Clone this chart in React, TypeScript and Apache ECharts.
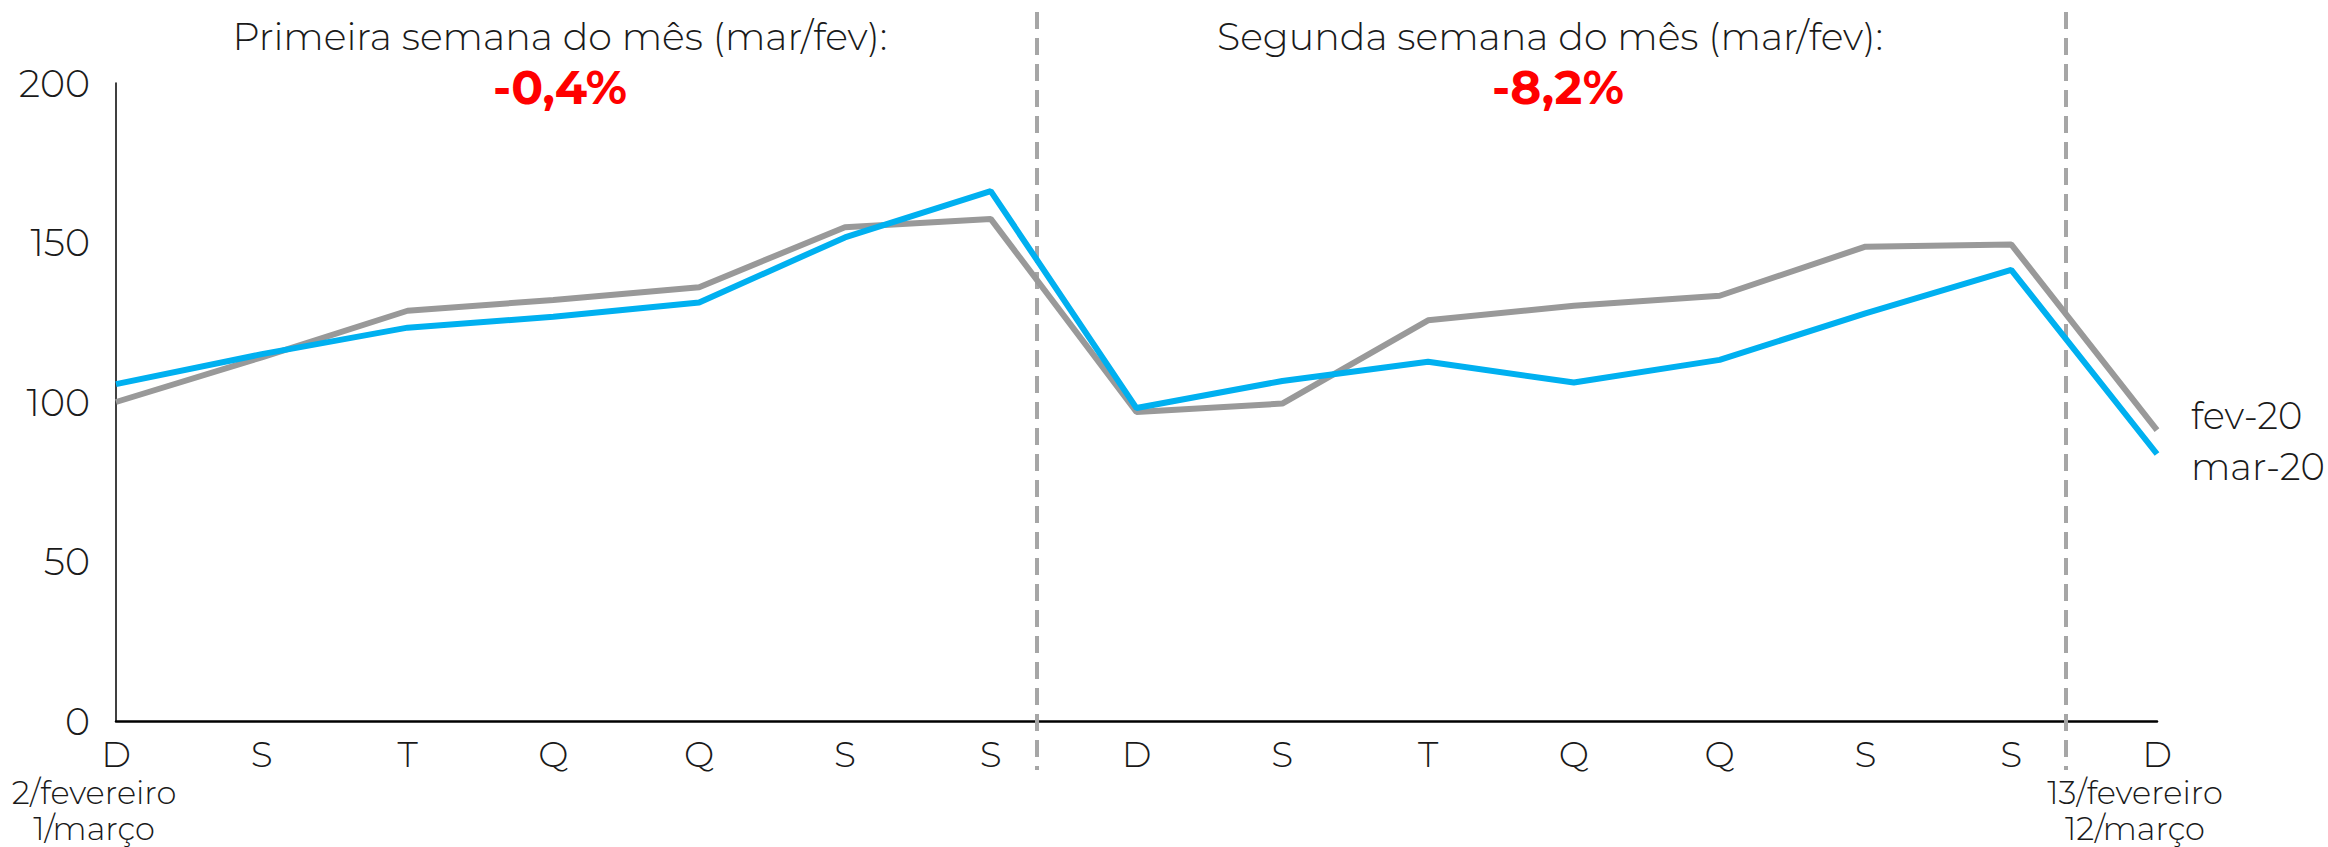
import React, { useEffect, useRef } from "react";
import * as echarts from "echarts";

const categories = ["D", "S", "T", "Q", "Q", "S", "S", "D", "S", "T", "Q", "Q", "S", "S", "D"];
const fev20 = [100, 114, 128.6, 132, 136, 154.8, 157.4, 96.9, 99.5, 125.6, 130.2, 133.3, 148.7, 149.4, 91.2];
const mar20 = [105.6, 115, 123.3, 126.7, 131.2, 151.6, 166.1, 98.1, 106.6, 112.6, 106.1, 113.2, 127.8, 141.4, 83.7];
const yTicks = [0, 50, 100, 150, 200];
const firstDateLabels = ["2/fevereiro", "1/março"];
const lastDateLabels = ["13/fevereiro", "12/março"];
const sectionTitles = ["Primeira semana do mês (mar/fev):", "Segunda semana do mês (mar/fev):"];
const sectionValues = ["-0,4%", "-8,2%"];

const FONT = "Montserrat, 'Open Sans', 'Noto Sans', sans-serif";

export default function App() {
  const ref = useRef<HTMLDivElement>(null);
  useEffect(() => {
    if (!ref.current) return;
    const chart = echarts.init(ref.current, undefined, { renderer: "svg" });
    const last = categories.length - 1;
    chart.setOption({
      animation: false,
      backgroundColor: "#ffffff",
      grid: { left: 116, right: 171, top: 83, bottom: 126, containLabel: false },
      xAxis: {
        type: "category",
        data: categories,
        boundaryGap: false,
        axisLine: { show: true, lineStyle: { color: "#000000", width: 2.5 } },
        axisTick: { show: false },
        splitLine: { show: false },
        axisLabel: {
          interval: 0,
          margin: 13,
          fontFamily: FONT,
          fontWeight: 300,
          fontSize: 36,
          color: "#1a1a1a",
          formatter: (v: string, i: number) => {
            if (i === 0) return `{d|${v}}\n{s|${firstDateLabels[0]}}\n{s|${firstDateLabels[1]}}`;
            if (i === last) return `{d|${v}}\n{s|${lastDateLabels[0]}}\n{s|${lastDateLabels[1]}}`;
            return `{d|${v}}`;
          },
          rich: {
            d: { fontFamily: FONT, fontWeight: 300, fontSize: 36, color: "#1a1a1a", lineHeight: 40 },
            s: { fontFamily: FONT, fontWeight: 300, fontSize: 32, color: "#1a1a1a", lineHeight: 36, padding: [0, 44, 0, 0] },
          },
        },
      },
      yAxis: {
        type: "value",
        min: yTicks[0],
        max: yTicks[yTicks.length - 1],
        interval: yTicks[1] - yTicks[0],
        axisLine: { show: true, lineStyle: { color: "#000000", width: 1.5 } },
        axisTick: { show: false },
        splitLine: { show: false },
        axisLabel: { margin: 26, fontFamily: FONT, fontWeight: 300, fontSize: 38, color: "#1a1a1a" },
      },
      series: [
        {
          name: "fev-20",
          type: "line",
          data: fev20,
          symbol: "none",
          lineStyle: { color: "#999999", width: 6 },
          itemStyle: { color: "#999999" },
          endLabel: {
            show: true,
            formatter: "{a}",
            offset: [26, -15],
            fontFamily: FONT,
            fontWeight: 300,
            fontSize: 37,
            color: "#1a1a1a",
          },
        },
        {
          name: "mar-20",
          type: "line",
          data: mar20,
          symbol: "none",
          lineStyle: { color: "#00B0F0", width: 6 },
          itemStyle: { color: "#00B0F0" },
          endLabel: {
            show: true,
            formatter: "{a}",
            offset: [26, 13],
            fontFamily: FONT,
            fontWeight: 300,
            fontSize: 37,
            color: "#1a1a1a",
          },
        },
      ],
      graphic: [
        {
          type: "line",
          shape: { x1: 1037, y1: 12, x2: 1037, y2: 770 },
          style: { stroke: "#a6a6a6", lineWidth: 4, lineDash: [17, 9] },
          z: 1,
        },
        {
          type: "line",
          shape: { x1: 2066, y1: 12, x2: 2066, y2: 770 },
          style: { stroke: "#a6a6a6", lineWidth: 4, lineDash: [17, 9] },
          z: 1,
        },
        {
          type: "text",
          x: 560,
          y: 36,
          style: {
            text: sectionTitles[0],
            fill: "#1a1a1a",
            font: `300 38px ${FONT}`,
            textAlign: "center",
            textVerticalAlign: "middle",
          },
        },
        {
          type: "text",
          x: 560,
          y: 87,
          style: {
            text: sectionValues[0],
            fill: "#ff0000",
            font: `bold 47px ${FONT}`,
            textAlign: "center",
            textVerticalAlign: "middle",
          },
        },
        {
          type: "text",
          x: 1550,
          y: 36,
          style: {
            text: sectionTitles[1],
            fill: "#1a1a1a",
            font: `300 38px ${FONT}`,
            textAlign: "center",
            textVerticalAlign: "middle",
          },
        },
        {
          type: "text",
          x: 1558,
          y: 87,
          style: {
            text: sectionValues[1],
            fill: "#ff0000",
            font: `bold 47px ${FONT}`,
            textAlign: "center",
            textVerticalAlign: "middle",
          },
        },
      ],
    });
    return () => chart.dispose();
  }, []);
  return <div ref={ref} style={{ position: "fixed", left: 0, top: 0, width: 2328, height: 847 }} />;
}
